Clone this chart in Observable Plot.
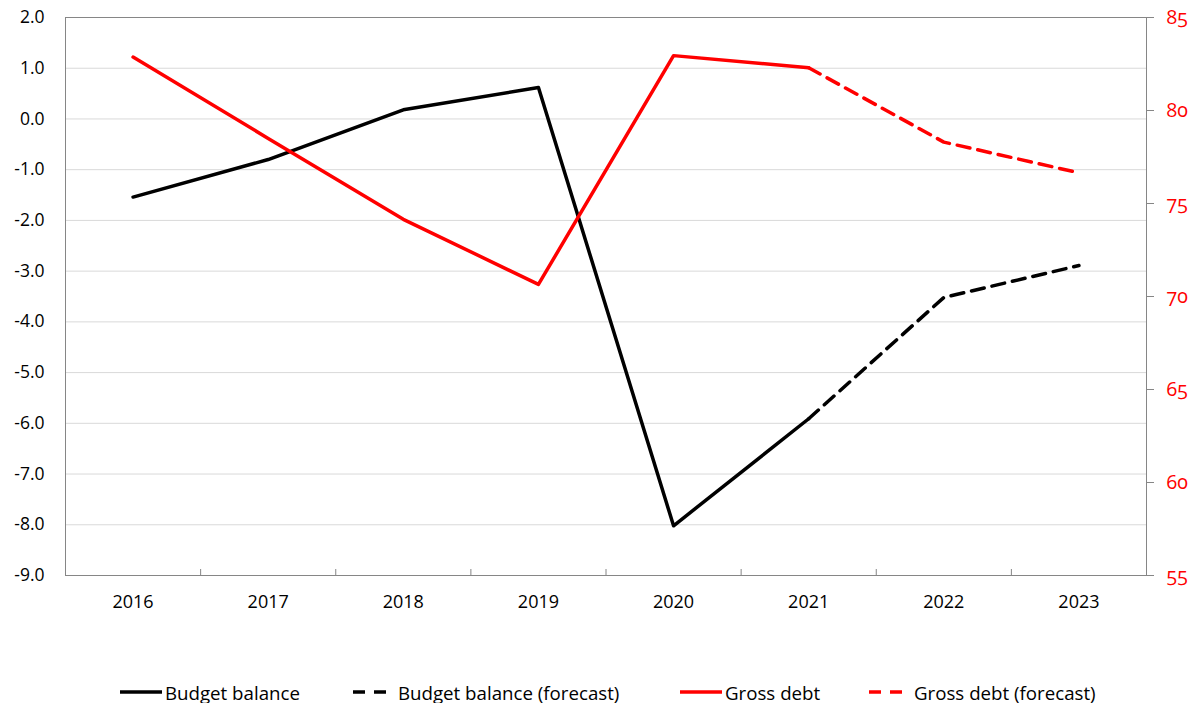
<!DOCTYPE html>
<html><head><meta charset="utf-8">
<script src="https://cdn.jsdelivr.net/npm/d3@7"></script>
<script src="https://cdn.jsdelivr.net/npm/@observablehq/plot@0.6"></script>
<style>
body{margin:0;background:#fff;font-family:"Open Sans",sans-serif;}
#wrap{position:relative;width:1192px;height:703px;overflow:hidden;}
#legend{position:absolute;left:0;top:678px;width:1192px;height:28px;}
.item{position:absolute;top:0;height:28px;display:flex;align-items:center;font-size:18.7px;color:#000;white-space:nowrap;}
.item svg{margin-right:3px;}
</style></head><body><div id="wrap"><div id="chart"></div><div id="legend"></div></div>
<script>
const years = [2016, 2017, 2018, 2019, 2020, 2021, 2022, 2023];
const budgetBalance = [-1.54, -0.80, 0.18, 0.62, -8.02, -5.91, -3.52, -2.89];
const grossDebt = [82.87, 78.5, 74.15, 70.65, 82.95, 82.3, 78.3, 76.65];
const forecastFrom = 2021;
const leftTicks = [-9, -8, -7, -6, -5, -4, -3, -2, -1, 0, 1, 2];
const rightTicks = [55, 60, 65, 70, 75, 80, 85];
const seriesNames = ["Budget balance", "Budget balance (forecast)", "Gross debt", "Gross debt (forecast)"];

const leftMin = leftTicks[0], leftMax = leftTicks[leftTicks.length - 1];
const rightMin = rightTicks[0], rightMax = rightTicks[rightTicks.length - 1];
const toLeft = v => leftMin + (v - rightMin) * (leftMax - leftMin) / (rightMax - rightMin);
const fromLeft = v => rightMin + (v - leftMin) * (rightMax - rightMin) / (leftMax - leftMin);

const bal = years.map((year, i) => ({year, value: budgetBalance[i]}));
const debt = years.map((year, i) => ({year, value: toLeft(grossDebt[i])}));
const actual = arr => arr.filter(d => d.year <= forecastFrom);
const forecast = arr => arr.filter(d => d.year >= forecastFrom);
const boundaries = years.slice(1).map(y => y - 0.5);

const RED = "#ff0000";
const AXIS = "#868686";

const chart = Plot.plot({
  width: 1192,
  height: 630,
  marginLeft: 65,
  marginRight: 46,
  marginTop: 17,
  marginBottom: 55,
  style: {fontFamily: "'Open Sans', sans-serif", fontSize: "17px", color: "#000", background: "#fff"},
  x: {type: "linear", domain: [years[0] - 0.5, years[years.length - 1] + 0.5], label: null},
  y: {domain: [leftMin, leftMax], label: null},
  marks: [
    Plot.gridY(leftTicks.slice(1, -1), {stroke: "#d9d9d9", strokeOpacity: 1}),
    Plot.frame({stroke: AXIS}),
    Plot.axisY(leftTicks, {anchor: "left", tickSize: 0, tickPadding: 21, tickFormat: d => d.toFixed(1), label: null, fontSize: 17.5}),
    Plot.axisY(rightTicks.map(toLeft), {anchor: "right", tickSize: 7, tickPadding: 13, stroke: AXIS, fill: RED,
      tickFormat: d => String(Math.round(fromLeft(d))), label: null, fontSize: 19.5, fontVariant: "oldstyle-nums"}),
    Plot.axisX(years, {anchor: "bottom", tickSize: 0, tickPadding: 20, tickFormat: d => String(d), label: null, fontSize: 18}),
    Plot.axisX(boundaries, {anchor: "bottom", tickSize: 6, dy: -6, stroke: AXIS, tickFormat: () => "", label: null}),
    Plot.line(actual(bal), {x: "year", y: "value", stroke: "#000", strokeWidth: 3.5, strokeLinejoin: "round"}),
    Plot.line(forecast(bal), {x: "year", y: "value", stroke: "#000", strokeWidth: 3.5, strokeDasharray: "13,8", strokeLinejoin: "round"}),
    Plot.line(actual(debt), {x: "year", y: "value", stroke: RED, strokeWidth: 3.5, strokeLinejoin: "round"}),
    Plot.line(forecast(debt), {x: "year", y: "value", stroke: RED, strokeWidth: 3.5, strokeDasharray: "13,8", strokeLinejoin: "round"})
  ]
});
document.getElementById("chart").appendChild(chart);

// legend
const legendItems = [
  {name: seriesNames[0], color: "#000", dash: null, left: 120},
  {name: seriesNames[1], color: "#000", dash: "13,8", left: 353},
  {name: seriesNames[2], color: RED, dash: null, left: 680},
  {name: seriesNames[3], color: RED, dash: "13,8", left: 869}
];
const legend = document.getElementById("legend");
for (const it of legendItems) {
  const div = document.createElement("div");
  div.className = "item";
  div.style.left = it.left + "px";
  const ns = "http://www.w3.org/2000/svg";
  const svg = document.createElementNS(ns, "svg");
  svg.setAttribute("width", 42); svg.setAttribute("height", 10);
  const ln = document.createElementNS(ns, "line");
  ln.setAttribute("x1", 0); ln.setAttribute("x2", 42); ln.setAttribute("y1", 5); ln.setAttribute("y2", 5);
  ln.setAttribute("stroke", it.color); ln.setAttribute("stroke-width", 3.5);
  if (it.dash) ln.setAttribute("stroke-dasharray", "12,9");
  svg.appendChild(ln);
  div.appendChild(svg);
  const sp = document.createElement("span");
  sp.textContent = it.name;
  div.appendChild(sp);
  legend.appendChild(div);
}
</script></body></html>
